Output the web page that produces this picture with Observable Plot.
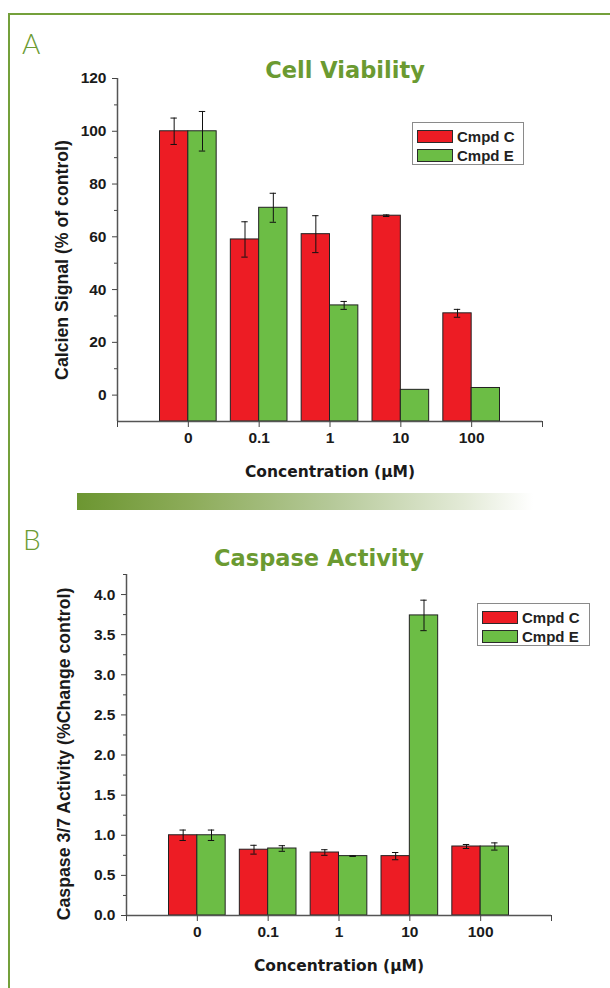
<!DOCTYPE html>
<html><head><meta charset="utf-8">
<script src="https://cdn.jsdelivr.net/npm/d3@7"></script>
<script src="https://cdn.jsdelivr.net/npm/@observablehq/plot@0.6"></script>
<style>
html,body{margin:0;padding:0;background:#fff;}
body{width:610px;height:988px;overflow:hidden;position:relative;}
.frame{position:absolute;left:8px;top:13px;width:640px;height:1000px;border-top:2px solid #74a03b;border-left:2px solid #74a03b;}
.panel{position:absolute;font-family:Lato,"DejaVu Sans",sans-serif;font-weight:300;font-size:28px;color:#6c9b33;line-height:1;z-index:2;}
.title{position:absolute;font-family:"DejaVu Sans",sans-serif;font-weight:bold;font-size:22.5px;color:#6b9a31;white-space:nowrap;transform:translateX(-50%);line-height:1;z-index:2;}
.grad{position:absolute;left:77px;top:493px;width:456px;height:17px;background:linear-gradient(90deg,#6c9631 0%,#8dac5a 25%,#b4c897 55%,#e3ead7 85%,#fff 100%);}
.chart{position:absolute;left:0;z-index:1;}
.legend{position:absolute;border:1px solid #8a8a8a;background:#fff;padding:4px 4px 3px 4px;box-sizing:border-box;z-index:2;}
.legend .row{display:flex;align-items:center;height:19px;}
.legend .sw{width:36px;height:13px;box-sizing:border-box;border:1px solid #2a2a2a;margin-right:4px;}
.legend .lab{font-family:"Liberation Sans",Arial,sans-serif;font-weight:bold;font-size:15px;color:#222;white-space:nowrap;}
</style>
</head><body>
<div class="frame"></div>
<div class="panel" style="left:22px;top:29px">A</div>
<div class="panel" style="left:23px;top:525px">B</div>
<div class="grad"></div>
<div id="chartA" class="chart" style="top:60px"></div>
<div id="chartB" class="chart" style="top:560px"></div>
<div class="title" style="left:345px;top:59px">Cell Viability</div>
<div class="title" style="left:319px;top:547px">Caspase Activity</div>
<div id="legendA" class="legend" style="left:412px;top:122px;width:112px;height:43px"></div>
<div id="legendB" class="legend" style="left:477px;top:603px;width:113px;height:43px"></div>
<script>
const categories = ["0", "0.1", "1", "10", "100"];
const series = ["Cmpd C", "Cmpd E"];
const colors = ["#ed1c24", "#6cbd45"];

const viabilityC = [100, 59, 61, 68, 31];
const viabilityCErr = [5, 6.7, 7, 0.3, 1.5];
const viabilityE = [100, 71, 34, 2, 2.7];
const viabilityEErr = [7.5, 5.5, 1.5, 0, 0];
const viabilityTicks = [0, 20, 40, 60, 80, 100, 120];
const viabilityMinor = [10, 30, 50, 70, 90, 110];
const viabilityDomain = [-10, 120];

const caspaseC = [1.0, 0.82, 0.785, 0.74, 0.86];
const caspaseCErr = [0.065, 0.055, 0.035, 0.045, 0.025];
const caspaseE = [1.0, 0.835, 0.74, 3.74, 0.86];
const caspaseEErr = [0.065, 0.035, 0.004, 0.19, 0.045];
const caspaseTicks = [0, 0.5, 1.0, 1.5, 2.0, 2.5, 3.0, 3.5, 4.0];
const caspaseMinor = [0.25, 0.75, 1.25, 1.75, 2.25, 2.75, 3.25, 3.75, 4.25];
const caspaseDomain = [0, 4.25];

function makeChart(o) {
  const rows = [];
  categories.forEach((c, i) => series.forEach((s, k) =>
    rows.push({i, s, k, v: o.values[k][i], e: o.errors[k][i]})));
  const half = 0.4, cap = 0.045;
  const x1 = d => d.i + (d.k - 1) * half;
  const x2 = d => d.i + d.k * half;
  const xc = d => d.i + (d.k - 0.5) * half;
  const err = rows.filter(d => d.e > 0);
  return Plot.plot({
    width: 610, height: o.height,
    marginTop: o.mt, marginBottom: o.mb, marginLeft: o.ml, marginRight: o.mr,
    style: {background: "transparent", fontFamily: "Liberation Sans", fontSize: "15.5px", fontWeight: "bold", color: "#1a1a1a", overflow: "visible"},
    x: {domain: [-1, categories.length]},
    y: {domain: o.domain},
    color: {domain: series, range: colors},
    marks: [
      Plot.rect(rows, {x1, x2, y1: o.domain[0], y2: "v", fill: "s", stroke: "#222", strokeWidth: 1}),
      Plot.ruleX(err, {x: xc, y1: d => d.v - d.e, y2: d => d.v + d.e, stroke: "#111", strokeWidth: 1}),
      Plot.ruleY(err, {y: d => d.v + d.e, x1: d => xc(d) - cap, x2: d => xc(d) + cap, stroke: "#111", strokeWidth: 1}),
      Plot.ruleY(err, {y: d => d.v - d.e, x1: d => xc(d) - cap, x2: d => xc(d) + cap, stroke: "#111", strokeWidth: 1}),
      Plot.ruleX([-1], {stroke: "#555", strokeWidth: 1.5}),
      Plot.ruleY([o.domain[0]], {stroke: "#555", strokeWidth: 1.5}),
      Plot.axisY(o.ticks, {tickSize: 5, tickPadding: 6, tickFormat: o.fmt, stroke: "#444", label: null}),
      Plot.axisY(o.minor, {tickSize: 3, tickFormat: () => "", stroke: "#444", label: null}),
      Plot.axisX(d3.range(-1, categories.length + 1), {tickSize: 6, tickPadding: 4, tickFormat: i => categories[i] ?? "", stroke: "#444", label: null}),
      Plot.text([o.yLabel], {text: d => d, frameAnchor: "left", textAnchor: "middle", lineAnchor: "middle", rotate: -90, dx: o.ldx, dy: o.ldy, fontFamily: "Liberation Sans", fontSize: 17.7, fontWeight: "bold"}),
      Plot.text([o.xLabel], {text: d => d, frameAnchor: "bottom", lineAnchor: "middle", dy: 51, fontFamily: "DejaVu Sans", fontSize: 15.5, fontWeight: "bold"})
    ]
  });
}

document.getElementById("chartA").appendChild(makeChart({
  values: [viabilityC, viabilityE], errors: [viabilityCErr, viabilityEErr],
  domain: viabilityDomain, ticks: viabilityTicks, minor: viabilityMinor, fmt: d => String(d),
  yLabel: "Calcien Signal (% of control)", xLabel: "Concentration (\u03bcM)",
  height: 430, mt: 18, mb: 69, ml: 117, mr: 68, ldx: -55, ldy: 10
}));
document.getElementById("chartB").appendChild(makeChart({
  values: [caspaseC, caspaseE], errors: [caspaseCErr, caspaseEErr],
  domain: caspaseDomain, ticks: caspaseTicks, minor: caspaseMinor, fmt: d => d.toFixed(1),
  yLabel: "Caspase 3/7 Activity (%Change control)", xLabel: "Concentration (\u03bcM)",
  height: 428, mt: 14, mb: 73, ml: 126, mr: 59, ldx: -62, ldy: 9
}));

for (const id of ["legendA", "legendB"]) {
  const el = document.getElementById(id);
  series.forEach((s, k) => {
    const row = document.createElement("div"); row.className = "row";
    const sw = document.createElement("div"); sw.className = "sw"; sw.style.background = colors[k];
    const lab = document.createElement("div"); lab.className = "lab"; lab.textContent = s;
    row.appendChild(sw); row.appendChild(lab); el.appendChild(row);
  });
}
</script>
</body></html>
